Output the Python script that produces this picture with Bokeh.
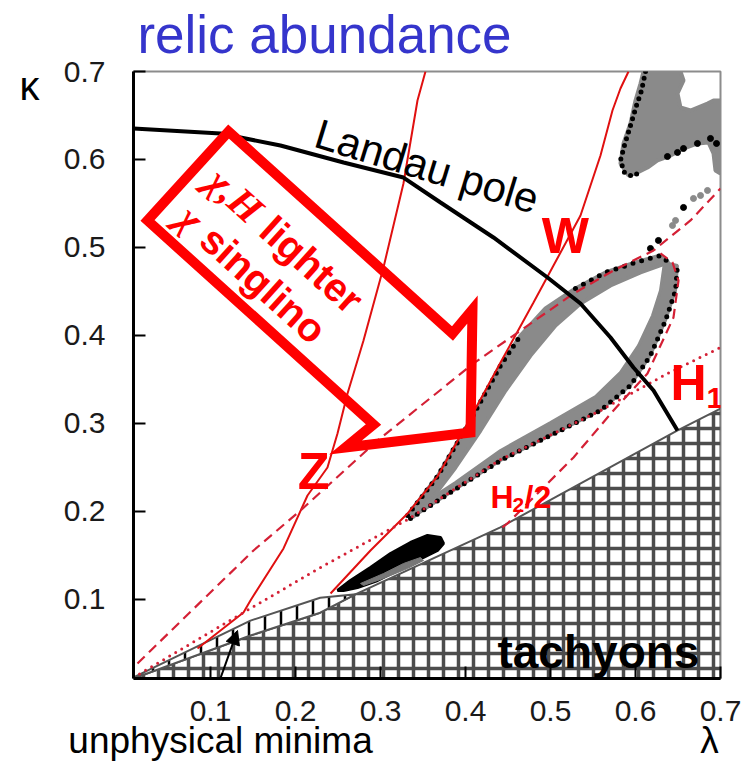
from bokeh.plotting import figure
from bokeh.models import Range1d, Label, Arrow, NormalHead, FixedTicker, LinearAxis
from bokeh.embed import file_html
from bokeh.resources import INLINE

# ---------------- data (lambda, kappa) ----------------
x_ticks = [0.1, 0.2, 0.3, 0.4, 0.5, 0.6, 0.7]
y_ticks = [0.1, 0.2, 0.3, 0.4, 0.5, 0.6, 0.7]

tachyon_lam = [0.0094, 0.147, 0.229, 0.271, 0.441, 0.649, 0.700]
tachyon_kap = [0.0102, 0.059, 0.085, 0.106, 0.182, 0.292, 0.317]

unphys_lam = [0.0094, 0.147, 0.229, 0.271]
unphys_kap = [0.0114, 0.076, 0.102, 0.106]

landau_lam = [0.0094, 0.1118, 0.1823, 0.2565, 0.327, 0.3706, 0.4329, 0.4965, 0.5353, 0.5706, 0.5976, 0.6212, 0.6494]
landau_kap = [0.6352, 0.6295, 0.6159, 0.5966, 0.5795, 0.5511, 0.5114, 0.4659, 0.4364, 0.3977, 0.3636, 0.3375, 0.292]

z_lam = [0.0847, 0.1388, 0.147, 0.1859, 0.2141, 0.2376, 0.2494, 0.2612, 0.28, 0.3035, 0.327, 0.3435, 0.3529]
z_kap = [0.0443, 0.0852, 0.0989, 0.158, 0.2182, 0.25, 0.2886, 0.3341, 0.3943, 0.4773, 0.5727, 0.667, 0.70]

w_lam = [0.2412, 0.2882, 0.3318, 0.367, 0.4023, 0.4412, 0.48, 0.5118, 0.5353, 0.5588, 0.5729, 0.5823, 0.5918]
w_kap = [0.1068, 0.1557, 0.1977, 0.2398, 0.30, 0.3693, 0.4375, 0.4943, 0.5364, 0.6045, 0.6557, 0.6807, 0.70]

h1_lam = [0.0094, 0.1388, 0.2294, 0.3318, 0.4412, 0.5588, 0.6376, 0.70]
h1_kap = [0.0114, 0.0852, 0.1364, 0.1909, 0.2591, 0.3148, 0.3568, 0.3864]

dash_lam = [0.0141, 0.1506, 0.2059, 0.2965, 0.4094, 0.5271, 0.5741, 0.6212, 0.6647, 0.70]
dash_kap = [0.0273, 0.1557, 0.2011, 0.2807, 0.3682, 0.4477, 0.4739, 0.4966, 0.5307, 0.567]

h2_lam = [0.4435, 0.4494, 0.48, 0.5271, 0.5741, 0.6141, 0.6447, 0.6506, 0.6435, 0.6294]
h2_kap = [0.182, 0.1864, 0.2159, 0.2614, 0.3148, 0.3568, 0.4205, 0.4625, 0.483, 0.4932]

# allowed points: upper band (along W line) and lower band (along H1 line)
ub_lam = [0.3318, 0.367, 0.4023, 0.4412, 0.4647, 0.4941, 0.5294, 0.5647, 0.60, 0.6294, 0.6388,
          0.6059, 0.5706, 0.5353, 0.5059, 0.4765, 0.4471, 0.4176, 0.3882, 0.3588, 0.3376]
ub_kap = [0.1955, 0.2398, 0.2977, 0.3659, 0.40, 0.4307, 0.4534, 0.4716, 0.483, 0.4909, 0.483,
          0.4716, 0.4568, 0.4364, 0.4114, 0.3773, 0.3375, 0.292, 0.25, 0.2125, 0.1932]

lb_out_lam = [0.3353, 0.3823, 0.4412, 0.50, 0.5588, 0.5941, 0.6176, 0.6353, 0.6471, 0.6494]
lb_out_kap = [0.192, 0.2216, 0.258, 0.2864, 0.3148, 0.3432, 0.3773, 0.417, 0.4511, 0.4795]
lb_in_lam = [0.6341, 0.6294, 0.62, 0.6035, 0.5824, 0.553, 0.50, 0.4412, 0.3882, 0.3412]
lb_in_kap = [0.483, 0.4511, 0.4227, 0.3886, 0.358, 0.3307, 0.3011, 0.2693, 0.233, 0.2034]

cl_lam = [0.6094, 0.6529, 0.6565, 0.6494, 0.6529, 0.6647, 0.6847, 0.6918, 0.70, 0.70, 0.6941, 0.6918,
          0.6859, 0.6729, 0.6565, 0.6412, 0.6259, 0.6141, 0.6023, 0.5918, 0.5823, 0.5859, 0.5941, 0.60, 0.6059]
cl_kap = [0.70, 0.70, 0.6898, 0.675, 0.6591, 0.6557, 0.6636, 0.667, 0.667, 0.5841, 0.5875, 0.6068,
          0.6193, 0.6182, 0.6125, 0.6045, 0.5989, 0.5909, 0.5852, 0.5818, 0.5955, 0.6182, 0.6409, 0.667, 0.6864]
cle_lam = [0.6118, 0.6071, 0.6012, 0.5941, 0.587, 0.5823, 0.587, 0.5965, 0.6082]
cle_kap = [0.70, 0.6784, 0.6614, 0.6386, 0.6159, 0.5989, 0.5852, 0.5807, 0.5875]

bdot_lam = [0.6565, 0.6729, 0.6882, 0.6953, 0.6376, 0.6494, 0.6565, 0.627, 0.6176]
bdot_kap = [0.6125, 0.6182, 0.6239, 0.6182, 0.6034, 0.608, 0.5455, 0.508, 0.4989]
gdot_lam = [0.6847, 0.6765, 0.6682, 0.6471, 0.6435]
gdot_kap = [0.5648, 0.5591, 0.5557, 0.5307, 0.525]

blob_lam = [0.2494, 0.2647, 0.2882, 0.3118, 0.3353, 0.3553, 0.3706, 0.3741, 0.367, 0.3435, 0.32, 0.2965, 0.2729, 0.2565]
blob_kap = [0.1102, 0.1216, 0.1364, 0.1523, 0.1648, 0.1727, 0.1705, 0.1636, 0.1557, 0.1443, 0.133, 0.1216, 0.1136, 0.1102]
blobg_lam = [0.2765, 0.3035, 0.327, 0.347, 0.3506, 0.3318, 0.3035, 0.28]
blobg_kap = [0.1182, 0.1295, 0.1409, 0.1477, 0.1443, 0.1352, 0.1239, 0.1159]

arrow_lam = [0.1212, 0.3847, 0.4082, 0.4059, 0.2588, 0.2918, 0.0259]
arrow_kap = [0.6318, 0.4023, 0.4295, 0.2898, 0.2727, 0.2989, 0.5307]

# texts placed outside the frame (carried by extra axes)
title_text = "relic abundance"
title_pos = 0.2341
ylab_text = "κ"
ylab_pos = 0.684
bottom_texts = {0.1118: "unphysical minima", 0.687: "λ"}

# ---------------- figure ----------------
p = figure(width=746, height=773, x_range=Range1d(0.0094, 0.70), y_range=Range1d(0.0102, 0.70),
           output_backend="svg", toolbar_location=None,
           min_border_left=133, min_border_right=26, min_border_top=71, min_border_bottom=95)
p.background_fill_color = "white"
p.border_fill_color = "white"
p.outline_line_color = "#8c8c8c"
p.outline_line_width = 2
p.grid.visible = False

for ax, ticks in ((p.xaxis, x_ticks), (p.yaxis, y_ticks)):
    ax.ticker = FixedTicker(ticks=ticks)
    ax.major_tick_in = 12
    ax.major_tick_out = 0
    ax.minor_tick_in = 0
    ax.minor_tick_out = 0
    ax.axis_line_width = 3
    ax.axis_line_color = "black"
    ax.major_tick_line_width = 2
    ax.major_tick_line_color = "black"
    ax.major_label_text_font = "Liberation Sans"
    ax.major_label_text_font_size = "30px"
    ax.major_label_text_color = "#1a1a1a"
p.xaxis.major_label_standoff = 22
p.yaxis.major_label_standoff = 28


def text_axis(ticks, overrides, size, color="black", standoff=0, orientation="horizontal"):
    a = LinearAxis(ticker=FixedTicker(ticks=ticks), major_label_overrides=overrides)
    a.axis_line_color = None
    a.major_tick_line_color = None
    a.minor_tick_line_color = None
    a.major_tick_in = 0
    a.major_tick_out = 0
    a.major_label_text_font = "Liberation Sans"
    a.major_label_text_font_size = size
    a.major_label_text_color = color
    a.major_label_standoff = standoff
    a.major_label_orientation = orientation
    return a


p.add_layout(text_axis([title_pos], {title_pos: title_text}, "53px", color="#3535cc", standoff=8), "above")
p.add_layout(text_axis([ylab_pos], {ylab_pos: ylab_text}, "40px", standoff=21), "left")
p.add_layout(text_axis(list(bottom_texts), bottom_texts, "37px", standoff=-4), "below")

RED = "#e01010"
DRED = "#d42035"

# tachyon region
p.patch(tachyon_lam + [0.70], tachyon_kap + [0.0102], fill_color="white",
        hatch_pattern="+", hatch_color="#4d4d4d", hatch_weight=3.5, hatch_scale=15,
        line_color="#555555", line_width=2)
# unphysical minima strip
p.patch(unphys_lam + tachyon_lam[2::-1], unphys_kap + tachyon_kap[2::-1], fill_color="white",
        hatch_pattern="|", hatch_color="black", hatch_weight=2.5, hatch_scale=16,
        line_color="#555555", line_width=2)

# allowed regions
GRAY = "#8a8a8a"
p.patch(ub_lam, ub_kap, fill_color=GRAY, line_color=GRAY, line_width=4)
p.patch(lb_out_lam + lb_in_lam, lb_out_kap + lb_in_kap, fill_color=GRAY, line_color=GRAY, line_width=3)
p.patch(cl_lam, cl_kap, fill_color=GRAY, line_color=GRAY, line_width=4)
p.patch(blob_lam, blob_kap, fill_color="black", line_color="black", line_width=3)
p.patch(blobg_lam, blobg_kap, fill_color="#777777", line_color="#777777", line_width=1)
p.line(ub_lam[:5], ub_kap[:5], line_color="black", line_width=5, line_dash="0 8", line_cap="round")
p.line(ub_lam[6:11], ub_kap[6:11], line_color="black", line_width=5, line_dash="0 9", line_cap="round")
p.line(lb_out_lam, lb_out_kap, line_color="black", line_width=5, line_dash="0 8", line_cap="round")
p.line(cle_lam, cle_kap, line_color="black", line_width=5, line_dash="0 7", line_cap="round")
p.scatter(gdot_lam, gdot_kap, size=6, color=GRAY)
p.scatter(bdot_lam, bdot_kap, size=6, color="black")

# mass lines
p.line(z_lam, z_kap, line_color=RED, line_width=2)
p.line(w_lam, w_kap, line_color=RED, line_width=2)
p.line(h1_lam, h1_kap, line_color=DRED, line_width=3, line_dash="0 7", line_cap="round")
p.line(dash_lam, dash_kap, line_color=DRED, line_width=2.2, line_dash="10 6")
p.line(h2_lam, h2_kap, line_color=DRED, line_width=2.2, line_dash="10 6")

# Landau pole
p.line(landau_lam, landau_kap, line_color="black", line_width=4)

# big hollow arrow
p.patch(arrow_lam, arrow_kap, fill_alpha=0, line_color="#ff0000", line_width=10, line_join="miter")


def lab(x, y, text, size, color="black", style="normal", align="center", baseline="middle", angle=0.0,
        font="Liberation Sans"):
    p.add_layout(Label(x=x, y=y, text=text, text_font=font, text_font_size=size,
                       text_font_style=style, text_color=color,
                       text_align=align, text_baseline=baseline, angle=angle))


lab(0.2247, 0.6307, "Landau pole", "42px", align="left", baseline="alphabetic", angle=-0.297)
lab(0.1027, 0.5818, "χ,H", "40px", color="#ff0000", style="bold italic", align="left", angle=-0.733,
    font="Liberation Serif")
lab(0.1656, 0.527, "lighter", "40px", color="#ff0000", style="bold", align="left", angle=-0.733)
lab(0.0682, 0.5399, "χ", "40px", color="#ff0000", style="bold italic", align="left", angle=-0.733,
    font="Liberation Serif")
lab(0.0953, 0.5164, "singlino", "40px", color="#ff0000", style="bold", align="left", angle=-0.733)
lab(0.5176, 0.5136, "W", "50px", color="#ff0000", style="bold")
lab(0.2212, 0.2455, "Z", "52px", color="#ff0000", style="bold")
lab(0.6412, 0.3455, "H", "50px", color="#ff0000", style="bold", align="left", baseline="alphabetic")
lab(0.6835, 0.3295, "1", "30px", color="#ff0000", style="bold", align="left", baseline="alphabetic")
lab(0.4294, 0.2159, "H", "32px", color="#ff0000", style="bold", align="left", baseline="alphabetic")
lab(0.4553, 0.2068, "2", "21px", color="#ff0000", style="bold", align="left", baseline="alphabetic")
lab(0.4694, 0.2159, "/2", "32px", color="#ff0000", style="bold", align="left", baseline="alphabetic")
lab(0.4376, 0.0398, "tachyons", "46px", style="bold", align="left", baseline="alphabetic")

p.add_layout(Arrow(end=NormalHead(size=14, fill_color="black", line_color="black"),
                   x_start=0.0906, y_start=-0.0466, x_end=0.1318, y_end=0.0648,
                   line_color="black", line_width=2))

open("out.html", "w").write(file_html(p, INLINE))
